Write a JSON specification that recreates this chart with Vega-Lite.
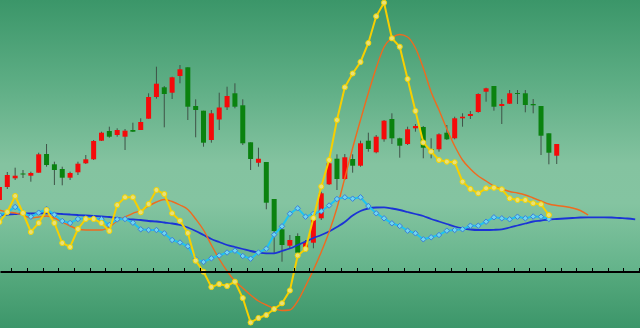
{
  "$schema": "https://vega.github.io/schema/vega-lite/v6.json",
  "width": 640,
  "height": 328,
  "padding": 0,
  "autosize": "none",
  "config": {"view": {"stroke": null}, "scale": {"continuousPadding": 0}},
  "datasets": {
    "candles": [
      {"i":0,"open":128,"close":141,"high":143,"low":125},
      {"i":1,"open":141,"close":153,"high":156,"low":139},
      {"i":2,"open":149.7,"close":152.3,"high":160.3,"low":148},
      {"i":3,"open":154.5,"close":153.5,"high":158,"low":150},
      {"i":4,"open":152.3,"close":155,"high":156.3,"low":146.3},
      {"i":5,"open":155.3,"close":173.7,"high":175.3,"low":155.3},
      {"i":6,"open":174,"close":163,"high":184,"low":161.3},
      {"i":7,"open":163.7,"close":158,"high":166.3,"low":143},
      {"i":8,"open":159,"close":150.3,"high":161.3,"low":142.7},
      {"i":9,"open":150.3,"close":155,"high":156.3,"low":148},
      {"i":10,"open":155.7,"close":164.3,"high":166.3,"low":153},
      {"i":11,"open":164.7,"close":168.7,"high":173,"low":164},
      {"i":12,"open":168.7,"close":187,"high":188,"low":168},
      {"i":13,"open":187.3,"close":195.3,"high":196.3,"low":187},
      {"i":14,"open":197,"close":191.3,"high":201.3,"low":190.3},
      {"i":15,"open":193,"close":198,"high":199.7,"low":191.3},
      {"i":16,"open":191.3,"close":197.3,"high":199,"low":178},
      {"i":17,"open":198,"close":196.3,"high":205.3,"low":196},
      {"i":18,"open":198,"close":206,"high":209.7,"low":198},
      {"i":19,"open":209.3,"close":231,"high":234.7,"low":209.3},
      {"i":20,"open":231,"close":244.3,"high":261.3,"low":229.3},
      {"i":21,"open":240.7,"close":234,"high":242,"low":200.7},
      {"i":22,"open":235.3,"close":250.7,"high":251.3,"low":229},
      {"i":23,"open":252,"close":258.7,"high":263,"low":244.7},
      {"i":24,"open":260.7,"close":221.3,"high":260.7,"low":208},
      {"i":25,"open":222,"close":218,"high":228.7,"low":190.7},
      {"i":26,"open":217.3,"close":185.3,"high":217.3,"low":181.3},
      {"i":27,"open":188,"close":214.7,"high":218,"low":185.3},
      {"i":28,"open":208.5,"close":220.5,"high":235.3,"low":198},
      {"i":29,"open":220.7,"close":232,"high":241.3,"low":218},
      {"i":30,"open":234.7,"close":221.3,"high":244.7,"low":219.7},
      {"i":31,"open":222.7,"close":184.7,"high":228.7,"low":183},
      {"i":32,"open":185.7,"close":169,"high":185.7,"low":158},
      {"i":33,"open":165.3,"close":169.3,"high":180.3,"low":161.3},
      {"i":34,"open":166,"close":125.3,"high":166,"low":118.7},
      {"i":35,"open":129,"close":97,"high":129,"low":74.7},
      {"i":36,"open":98.7,"close":83,"high":104,"low":66.3},
      {"i":37,"open":82.3,"close":88,"high":93,"low":79.7},
      {"i":38,"open":92,"close":75.3,"high":94.7,"low":74.7},
      {"i":39,"open":77.3,"close":85.7,"high":88,"low":76.3},
      {"i":40,"open":85.3,"close":108,"high":113,"low":79.7},
      {"i":41,"open":109.7,"close":134.7,"high":136.3,"low":108},
      {"i":42,"open":143.7,"close":164.7,"high":168,"low":143},
      {"i":43,"open":169.3,"close":149,"high":173.7,"low":138},
      {"i":44,"open":149,"close":170.7,"high":174,"low":148},
      {"i":45,"open":169,"close":162.3,"high":173.7,"low":155.3},
      {"i":46,"open":162.3,"close":184.7,"high":187.3,"low":161.3},
      {"i":47,"open":187.3,"close":179,"high":195.3,"low":176.3},
      {"i":48,"open":175.7,"close":191.3,"high":193,"low":174.7},
      {"i":49,"open":188.7,"close":207.3,"high":208,"low":186.3},
      {"i":50,"open":209,"close":189.7,"high":214.7,"low":184},
      {"i":51,"open":189.7,"close":182.3,"high":190.3,"low":170.3},
      {"i":52,"open":184,"close":198.7,"high":201.3,"low":183},
      {"i":53,"open":199.7,"close":202,"high":204,"low":196.3},
      {"i":54,"open":201,"close":180.3,"high":202,"low":169.7},
      {"i":55,"open":179,"close":177.7,"high":189.7,"low":169.7},
      {"i":56,"open":178.7,"close":193.7,"high":194.7,"low":176.3},
      {"i":57,"open":195.3,"close":188.7,"high":203,"low":188},
      {"i":58,"open":189.7,"close":209.7,"high":211.3,"low":188.7},
      {"i":59,"open":209.7,"close":211.3,"high":214.7,"low":201.3},
      {"i":60,"open":212,"close":214,"high":217,"low":209},
      {"i":61,"open":216,"close":234,"high":234.7,"low":215.3},
      {"i":62,"open":236.3,"close":239.7,"high":240.3,"low":226.3},
      {"i":63,"open":242,"close":221.3,"high":242,"low":217.3},
      {"i":64,"open":222,"close":224,"high":229,"low":204},
      {"i":65,"open":224.3,"close":234.7,"high":238,"low":224},
      {"i":66,"open":235,"close":234,"high":238,"low":224},
      {"i":67,"open":234.7,"close":223,"high":238,"low":215.7},
      {"i":68,"open":224,"close":222.7,"high":229,"low":214.7},
      {"i":69,"open":222,"close":192.3,"high":222,"low":173},
      {"i":70,"open":194.7,"close":175.3,"high":194.7,"low":163.7},
      {"i":71,"open":172.3,"close":184,"high":184,"low":164}
    ],
    "lines": [
      {"i":0,"yellow":106,"orange":118,"blue":113,"cyan":113},
      {"i":1,"yellow":116,"orange":116,"blue":113.5,"cyan":115.7},
      {"i":2,"yellow":132,"orange":115,"blue":114,"cyan":121},
      {"i":3,"yellow":115,"orange":113,"blue":114.5,"cyan":115.3},
      {"i":4,"yellow":96,"orange":110,"blue":114.5,"cyan":111.3},
      {"i":5,"yellow":105,"orange":111,"blue":114.7,"cyan":115.3},
      {"i":6,"yellow":118,"orange":112,"blue":114.7,"cyan":119},
      {"i":7,"yellow":105,"orange":110,"blue":114.5,"cyan":113.3},
      {"i":8,"yellow":85,"orange":106,"blue":114,"cyan":107},
      {"i":9,"yellow":81,"orange":102,"blue":113.5,"cyan":105},
      {"i":10,"yellow":99,"orange":99,"blue":113,"cyan":109},
      {"i":11,"yellow":109,"orange":98,"blue":112.5,"cyan":109.7},
      {"i":12,"yellow":109,"orange":98,"blue":112,"cyan":109.7},
      {"i":13,"yellow":105,"orange":98,"blue":111.5,"cyan":108.8},
      {"i":14,"yellow":97,"orange":101,"blue":111,"cyan":103},
      {"i":15,"yellow":123,"orange":107,"blue":110,"cyan":108.7},
      {"i":16,"yellow":130.7,"orange":111,"blue":109,"cyan":109},
      {"i":17,"yellow":130.7,"orange":114.7,"blue":108.5,"cyan":105.3},
      {"i":18,"yellow":115.7,"orange":117.3,"blue":108,"cyan":98.7},
      {"i":19,"yellow":124,"orange":122,"blue":107,"cyan":98},
      {"i":20,"yellow":138,"orange":126,"blue":106.5,"cyan":98},
      {"i":21,"yellow":134,"orange":128.5,"blue":105.5,"cyan":94.7},
      {"i":22,"yellow":114.7,"orange":126.5,"blue":104.5,"cyan":88},
      {"i":23,"yellow":107.3,"orange":123,"blue":103,"cyan":85.5},
      {"i":24,"yellow":95,"orange":118.5,"blue":100.5,"cyan":81.7},
      {"i":25,"yellow":67.3,"orange":109,"blue":97,"cyan":69},
      {"i":26,"yellow":56.3,"orange":98,"blue":93,"cyan":66},
      {"i":27,"yellow":41,"orange":83,"blue":89,"cyan":69.7},
      {"i":28,"yellow":44,"orange":69,"blue":86,"cyan":72.5},
      {"i":29,"yellow":42,"orange":57,"blue":83,"cyan":75.5},
      {"i":30,"yellow":46.3,"orange":47,"blue":81,"cyan":77.3},
      {"i":31,"yellow":30,"orange":40,"blue":79,"cyan":72},
      {"i":32,"yellow":5.5,"orange":33,"blue":77,"cyan":69.3},
      {"i":33,"yellow":10,"orange":27,"blue":75.5,"cyan":75.5},
      {"i":34,"yellow":13,"orange":23,"blue":74.7,"cyan":79.3},
      {"i":35,"yellow":19,"orange":19.5,"blue":74.7,"cyan":93.3},
      {"i":36,"yellow":24.7,"orange":17.5,"blue":77,"cyan":101.7},
      {"i":37,"yellow":37.5,"orange":18,"blue":79.5,"cyan":114.3},
      {"i":38,"yellow":72.5,"orange":27,"blue":83,"cyan":119.7},
      {"i":39,"yellow":79,"orange":42,"blue":86.5,"cyan":111.3},
      {"i":40,"yellow":110,"orange":58,"blue":90,"cyan":114.2},
      {"i":41,"yellow":141.5,"orange":76,"blue":93,"cyan":116.8},
      {"i":42,"yellow":168,"orange":96,"blue":96.5,"cyan":122.5},
      {"i":43,"yellow":208,"orange":120,"blue":101,"cyan":129},
      {"i":44,"yellow":240.7,"orange":150,"blue":106,"cyan":130.7},
      {"i":45,"yellow":254.5,"orange":180,"blue":112.5,"cyan":129.3},
      {"i":46,"yellow":266,"orange":208,"blue":117,"cyan":130.7},
      {"i":47,"yellow":285,"orange":235,"blue":119.5,"cyan":122},
      {"i":48,"yellow":311.7,"orange":260,"blue":120.5,"cyan":114.7},
      {"i":49,"yellow":325.3,"orange":281,"blue":120.7,"cyan":109.7},
      {"i":50,"yellow":289.7,"orange":290,"blue":119.5,"cyan":104.7},
      {"i":51,"yellow":281.3,"orange":293.5,"blue":118,"cyan":102},
      {"i":52,"yellow":249,"orange":291,"blue":116,"cyan":97.3},
      {"i":53,"yellow":217,"orange":280,"blue":114,"cyan":94.7},
      {"i":54,"yellow":185.5,"orange":260,"blue":112,"cyan":88.7},
      {"i":55,"yellow":176.5,"orange":236,"blue":109,"cyan":90.7},
      {"i":56,"yellow":168,"orange":218,"blue":106.5,"cyan":93},
      {"i":57,"yellow":166.3,"orange":199,"blue":104,"cyan":97.3},
      {"i":58,"yellow":165.7,"orange":182,"blue":101.5,"cyan":98},
      {"i":59,"yellow":146.3,"orange":168,"blue":99.7,"cyan":98.7},
      {"i":60,"yellow":139,"orange":159,"blue":98.5,"cyan":102.3},
      {"i":61,"yellow":134.7,"orange":152,"blue":98,"cyan":102.3},
      {"i":62,"yellow":139.7,"orange":147,"blue":98,"cyan":106.3},
      {"i":63,"yellow":140.3,"orange":142,"blue":98.2,"cyan":110.7},
      {"i":64,"yellow":138.7,"orange":139,"blue":98.7,"cyan":109.7},
      {"i":65,"yellow":129.7,"orange":136.5,"blue":100.5,"cyan":108.7},
      {"i":66,"yellow":128,"orange":135,"blue":102.5,"cyan":111.3},
      {"i":67,"yellow":128,"orange":133,"blue":104.5,"cyan":109.7},
      {"i":68,"yellow":124.7,"orange":130,"blue":106.5,"cyan":111.5},
      {"i":69,"yellow":123.7,"orange":127,"blue":107.5,"cyan":111.3},
      {"i":70,"yellow":113,"orange":124,"blue":108.5,"cyan":109},
      {"i":71,"yellow":null,"orange":122.5,"blue":109,"cyan":null},
      {"i":72,"yellow":null,"orange":121.5,"blue":109.5,"cyan":null},
      {"i":73,"yellow":null,"orange":120,"blue":110,"cyan":null},
      {"i":74,"yellow":null,"orange":117.5,"blue":110.5,"cyan":null},
      {"i":75,"yellow":null,"orange":113,"blue":110.7,"cyan":null},
      {"i":76,"yellow":null,"orange":null,"blue":110.7,"cyan":null},
      {"i":77,"yellow":null,"orange":null,"blue":110.7,"cyan":null},
      {"i":78,"yellow":null,"orange":null,"blue":110.5,"cyan":null},
      {"i":79,"yellow":null,"orange":null,"blue":110,"cyan":null},
      {"i":80,"yellow":null,"orange":null,"blue":109.5,"cyan":null},
      {"i":81,"yellow":null,"orange":null,"blue":108.7,"cyan":null}
    ]
  },
  "layer": [
    {
      "data": {"values": [{"x0": 0.07, "x1": 81.61, "y0": 0, "y1": 328}]},
      "mark": {"type": "rect", "fill": {"gradient": "linear", "x1": 0, "y1": 0, "x2": 0, "y2": 1,
        "stops": [
          {"offset": 0, "color": "#3b9669"},
          {"offset": 0.25, "color": "#5dad84"},
          {"offset": 0.5, "color": "#84c3a0"},
          {"offset": 0.62, "color": "#84c4a1"},
          {"offset": 0.826, "color": "#63b38a"},
          {"offset": 0.834, "color": "#56a97d"},
          {"offset": 1, "color": "#3c966a"}
        ]}},
      "encoding": {
        "x": {"field": "x0", "type": "quantitative", "scale": {"domain": [0.07, 81.61], "nice": false, "zero": false, "padding": 0},
          "axis": {"values": [1.5,3.5,5.5,7.5,9.5,11.5,13.5,15.5,17.5,19.5,21.5,23.5,25.5,27.5,29.5,31.5,33.5,35.5,37.5,39.5,41.5,43.5,45.5,47.5,49.5,51.5,53.5,55.5,57.5,59.5,61.5,63.5,65.5,67.5,69.5,71.5,73.5,75.5,77.5,79.5,81.5],
            "tickCount": 41, "labels": false, "title": null, "grid": false, "zindex": 1, "domainColor": "#000000", "domainWidth": 2, "tickColor": "#000000", "tickWidth": 1, "tickSize": -4, "offset": -56.5}},
        "x2": {"field": "x1"},
        "y": {"field": "y0", "type": "quantitative", "scale": {"domain": [0, 328], "nice": false, "zero": false, "padding": 0}, "axis": null},
        "y2": {"field": "y1"}
      }
    },
    {
      "data": {"name": "candles"},
      "mark": {"type": "rule", "color": "#3f5247", "strokeWidth": 1},
      "encoding": {
        "x": {"field": "i", "type": "quantitative"},
        "y": {"field": "low", "type": "quantitative"},
        "y2": {"field": "high"}
      }
    },
    {
      "data": {"name": "candles"},
      "mark": {"type": "bar", "size": 5},
      "encoding": {
        "x": {"field": "i", "type": "quantitative"},
        "y": {"field": "open", "type": "quantitative"},
        "y2": {"field": "close"},
        "color": {"condition": {"test": "datum.close > datum.open", "value": "#f50a0a"}, "value": "#0a820f"}
      }
    },
    {
      "data": {"name": "lines"},
      "mark": {"type": "line", "color": "#1b33d6", "strokeWidth": 1.8, "interpolate": "monotone"},
      "encoding": {
        "x": {"field": "i", "type": "quantitative"},
        "y": {"field": "blue", "type": "quantitative"}
      }
    },
    {
      "data": {"name": "lines"},
      "mark": {"type": "line", "color": "#f06a1e", "strokeWidth": 1.4, "interpolate": "monotone"},
      "encoding": {
        "x": {"field": "i", "type": "quantitative"},
        "y": {"field": "orange", "type": "quantitative"}
      }
    },
    {
      "data": {"name": "lines"},
      "mark": {"type": "line", "color": "#1ec3f2", "strokeWidth": 2},
      "encoding": {
        "x": {"field": "i", "type": "quantitative"},
        "y": {"field": "cyan", "type": "quantitative"}
      }
    },
    {
      "data": {"name": "lines"},
      "mark": {"type": "point", "shape": "diamond", "size": 30, "filled": true, "fill": "#6fd6f0", "stroke": "#3b7ed8", "strokeWidth": 1, "opacity": 1},
      "encoding": {
        "x": {"field": "i", "type": "quantitative"},
        "y": {"field": "cyan", "type": "quantitative"}
      }
    },
    {
      "data": {"name": "lines"},
      "mark": {"type": "line", "color": "#f7cf00", "strokeWidth": 2},
      "encoding": {
        "x": {"field": "i", "type": "quantitative"},
        "y": {"field": "yellow", "type": "quantitative"}
      }
    },
    {
      "data": {"name": "lines"},
      "mark": {"type": "point", "shape": "circle", "size": 26, "filled": true, "fill": "#e9e07a", "stroke": "#f2d400", "strokeWidth": 1, "opacity": 1},
      "encoding": {
        "x": {"field": "i", "type": "quantitative"},
        "y": {"field": "yellow", "type": "quantitative"}
      }
    }
  ]
}
